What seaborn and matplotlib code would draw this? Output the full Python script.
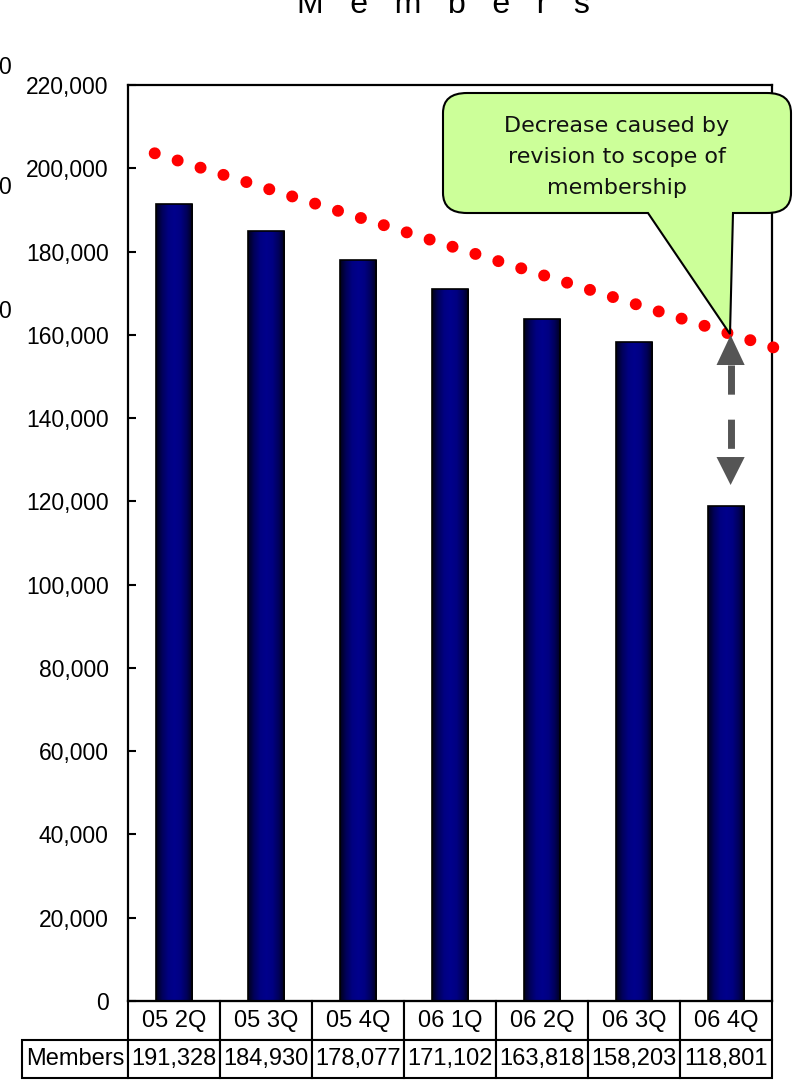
import numpy as np
import matplotlib
matplotlib.use("Agg")
import matplotlib.pyplot as plt
from matplotlib.path import Path
from matplotlib.patches import PathPatch, Polygon
from matplotlib.colors import LinearSegmentedColormap
from matplotlib.ticker import FuncFormatter, MultipleLocator
import seaborn as sns

# ---------------- data ----------------
categories = ["05 2Q", "05 3Q", "05 4Q", "06 1Q", "06 2Q", "06 3Q", "06 4Q"]
members = [191328, 184930, 178077, 171102, 163818, 158203, 118801]
row_label = "Members"
title_text = "M   e   m   b   e   r   s"
callout_text = "Decrease caused by\nrevision to scope of\nmembership"
# trend (dotted red) annotation end points, in data units
trend_x = [-0.21, 6.54]
trend_y = [203600, 156800]
# double arrow annotation (data units)
arrow_x = 6.05
arrow_top = 159950
arrow_top_base = 152750
arrow_bot_base = 130650
arrow_bot = 123930

# ---------------- style ----------------
sns.set_style("white")
plt.rcParams["font.family"] = ["Liberation Sans", "DejaVu Sans"]

W, H = 796, 1081
fig = plt.figure(figsize=(W / 100, H / 100), dpi=100)

def px(x, y):
    return (x / W, 1 - y / H)

ax_l, ax_r, ax_t, ax_b = 128, 772, 85, 1001
AW, AH = ax_r - ax_l, ax_b - ax_t
ax = fig.add_axes([ax_l / W, 1 - ax_b / H, AW / W, AH / H])

sns.barplot(x=categories, y=members, color="#000080", saturation=1, width=0.4,
            edgecolor="black", linewidth=1.2, ax=ax, zorder=2)

# gradient fill for bars
cmap = LinearSegmentedColormap.from_list(
    "navy_grad", ["#000018", "#00005a", "#000082", "#00008c", "#000082", "#00005a", "#000018"])
grad = np.linspace(0, 1, 256).reshape(1, -1)
for p in list(ax.patches):
    x0, y0, w, h = p.get_x(), p.get_y(), p.get_width(), p.get_height()
    im = ax.imshow(grad, extent=[x0, x0 + w, y0, y0 + h], aspect="auto", cmap=cmap,
                   origin="lower", zorder=1.5, interpolation="bicubic")
    im.set_clip_path(p)
    p.set_facecolor("none")

ax.set_xlim(-0.5, len(categories) - 0.5)
ax.set_ylim(0, 220000)
ax.yaxis.set_major_locator(MultipleLocator(20000))
ax.yaxis.set_major_formatter(FuncFormatter(lambda v, _: f"{int(v):,}"))
ax.set_xticks([])
ax.set_xlabel("")
ax.set_ylabel("")
ax.tick_params(axis="y", direction="in", length=6, width=1.5, pad=14,
               labelsize=16.5, left=True, colors="black")
for s in ax.spines.values():
    s.set_visible(True)
    s.set_color("black")
    s.set_linewidth(1.6)

# dotted red trend line
ax.plot(trend_x, trend_y, color="#ff0000", lw=8.6, linestyle=(0, (0.01, 2.0)),
        dash_capstyle="round", clip_on=False, zorder=3)

# dashed double arrow
arrow_col = "#555555"
hw = 0.153
ax.plot([arrow_x, arrow_x], [arrow_top_base, arrow_bot_base], color=arrow_col, lw=5,
        linestyle=(0, (4.2, 3.6)), solid_capstyle="butt", dash_capstyle="butt", zorder=4)
ax.add_patch(Polygon([[arrow_x - hw, arrow_top_base], [arrow_x + hw, arrow_top_base],
                      [arrow_x, arrow_top]], closed=True, color=arrow_col, zorder=4, lw=0))
ax.add_patch(Polygon([[arrow_x - hw, arrow_bot_base], [arrow_x + hw, arrow_bot_base],
                      [arrow_x, arrow_bot]], closed=True, color=arrow_col, zorder=4, lw=0))

# data table below the axes; cell sizes given directly in axes fractions
cell_text = [[f"{v:,}" for v in members]]
h_head, h_row = 39 / AH, 38 / AH
bbox = [0, -(h_head + h_row), 1, h_head + h_row]
tbl = ax.table(cellText=cell_text, colLabels=categories,
               cellLoc="center", colLoc="center", bbox=bbox)
tbl.add_cell(1, -1, width=106 / AW, height=h_row, text=row_label, loc="center")
tbl.auto_set_font_size(False)
tbl.set_fontsize(17)
for (r, c), cell in tbl.get_celld().items():
    cell.set_edgecolor("black")
    cell.set_linewidth(1.5)
    cell.set_width((106 if c == -1 else 92) / AW)
    cell.set_height(h_head if r == 0 else h_row)
    cell.get_text().set_color("black")
    cell.get_text().set_fontsize(17)

# callout balloon (figure pixel layout)
L, R, T, B = 443, 791, 93, 213
rx, ry = 24, 20
t1, tip, t2 = (733, 213), (730, 334), (648, 213)
verts = [px(L + rx, T), px(R - rx, T), px(R, T), px(R, T + ry), px(R, B - ry), px(R, B),
         px(R - rx, B), px(*t1), px(*tip), px(*t2), px(L + rx, B), px(L, B), px(L, B - ry),
         px(L, T + ry), px(L, T), px(L + rx, T), px(L + rx, T)]
codes = [Path.MOVETO, Path.LINETO, Path.CURVE3, Path.CURVE3, Path.LINETO, Path.CURVE3,
         Path.CURVE3, Path.LINETO, Path.LINETO, Path.LINETO, Path.LINETO, Path.CURVE3,
         Path.CURVE3, Path.LINETO, Path.CURVE3, Path.CURVE3, Path.CLOSEPOLY]
balloon = PathPatch(Path(verts, codes), facecolor="#ccff99", edgecolor="black", lw=1.5,
                    transform=fig.transFigure, zorder=5)
fig.add_artist(balloon)
fig.text(*px(617, 157), callout_text, ha="center", va="center", fontsize=16,
         family=["DejaVu Sans"], color="#111111", linespacing=1.68, zorder=6)

# cropped title at top
fig.text(*px(443, 13), title_text, ha="center", va="baseline", fontsize=23, color="black")

# cropped fragments of a neighbouring axis at the left edge
for yy in (67, 188, 312):
    fig.text(*px(10.5, yy), "0", ha="right", va="center", fontsize=16.5, color="black")

fig.savefig("out.png", dpi=100)
